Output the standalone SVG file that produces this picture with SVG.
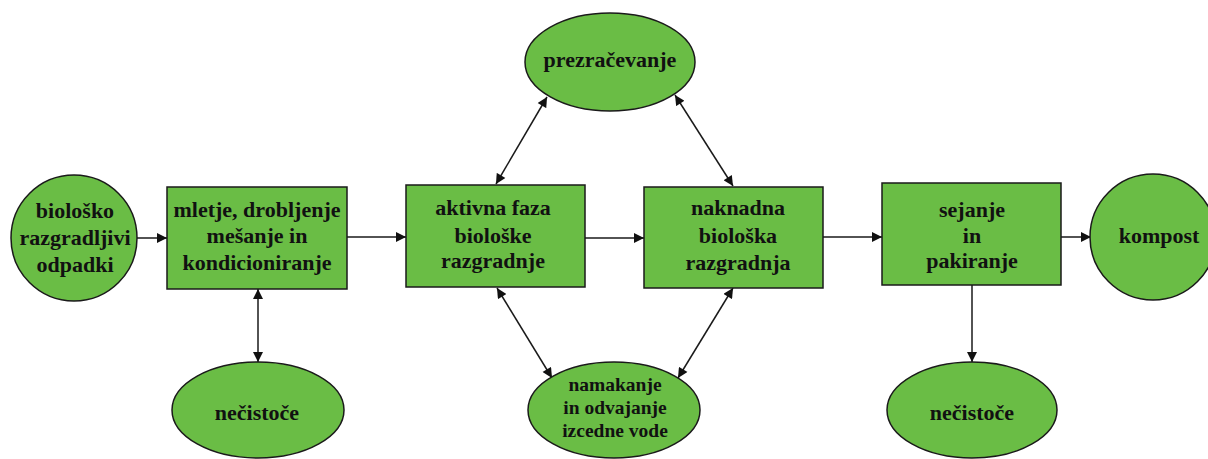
<svg xmlns="http://www.w3.org/2000/svg" width="1208" height="459" viewBox="0 0 1208 459">
<defs>
<style>
.n{fill:#6abd45;stroke:#1a1a1a;stroke-width:1.5}
.t{font-family:"Liberation Serif",serif;font-weight:bold;font-size:22px;fill:#111;text-anchor:middle}
.s{font-size:19.5px}
.c{stroke:#1a1a1a;stroke-width:1.5;fill:none}
</style>
<marker id="a" viewBox="0 0 10 10" refX="10" refY="5" markerWidth="11" markerHeight="10" markerUnits="userSpaceOnUse" orient="auto-start-reverse"><path d="M0,0 L10,5 L0,10 z" fill="#111"/></marker>
</defs>
<rect width="1208" height="459" fill="#fff"/>
<g id="connectors">
<line class="c" x1="137" y1="238" x2="167" y2="238" marker-end="url(#a)"/>
<line class="c" x1="347" y1="237" x2="406" y2="237" marker-end="url(#a)"/>
<line class="c" x1="585" y1="238" x2="644" y2="238" marker-end="url(#a)"/>
<line class="c" x1="823" y1="237" x2="882" y2="237" marker-end="url(#a)"/>
<line class="c" x1="1061" y1="237" x2="1091" y2="237" marker-end="url(#a)"/>
<line class="c" x1="258" y1="289" x2="258" y2="362" marker-start="url(#a)" marker-end="url(#a)"/>
<line class="c" x1="496" y1="184" x2="547" y2="97" marker-start="url(#a)" marker-end="url(#a)"/>
<line class="c" x1="733" y1="186" x2="675" y2="95" marker-start="url(#a)" marker-end="url(#a)"/>
<line class="c" x1="497" y1="288" x2="552" y2="378" marker-start="url(#a)" marker-end="url(#a)"/>
<line class="c" x1="733" y1="288" x2="678" y2="378" marker-start="url(#a)" marker-end="url(#a)"/>
<line class="c" x1="972" y1="285" x2="972" y2="362" marker-end="url(#a)"/>
</g>
<g id="n1"><circle class="n" cx="74" cy="238" r="63"/><text class="t" x="75" y="218">biološko</text><text class="t" x="75" y="245">razgradljivi</text><text class="t" x="75" y="272">odpadki</text></g>
<g id="n2"><rect class="n" x="167" y="187" width="180" height="102"/><text class="t" x="257" y="217">mletje, drobljenje</text><text class="t" x="257" y="243">mešanje in</text><text class="t" x="257" y="270">kondicioniranje</text></g>
<g id="n3"><rect class="n" x="406" y="185" width="179" height="102"/><text class="t" x="493" y="215">aktivna faza</text><text class="t" x="493" y="243">biološke</text><text class="t" x="493" y="268">razgradnje</text></g>
<g id="n4"><rect class="n" x="644" y="187" width="179" height="101"/><text class="t" x="738" y="215">naknadna</text><text class="t" x="738" y="243">biološka</text><text class="t" x="738" y="270">razgradnja</text></g>
<g id="n5"><rect class="n" x="882" y="183" width="179" height="102"/><text class="t" x="972" y="217">sejanje</text><text class="t" x="972" y="243">in</text><text class="t" x="972" y="268">pakiranje</text></g>
<g id="n6"><circle class="n" cx="1153" cy="237" r="63"/><text class="t" x="1159" y="243">kompost</text></g>
<g id="n7"><ellipse class="n" cx="610" cy="62" rx="85" ry="49"/><text class="t" x="610" y="67">prezračevanje</text></g>
<g id="n8"><ellipse class="n" cx="614" cy="410" rx="86" ry="48"/><text class="t s" x="615" y="391">namakanje</text><text class="t s" x="615" y="414">in odvajanje</text><text class="t s" x="615" y="437">izcedne vode</text></g>
<g id="n9"><ellipse class="n" cx="258" cy="410" rx="86" ry="48"/><text class="t" x="257" y="420">nečistoče</text></g>
<g id="n10"><ellipse class="n" cx="972" cy="410" rx="85" ry="48"/><text class="t" x="972" y="420">nečistoče</text></g>
</svg>
